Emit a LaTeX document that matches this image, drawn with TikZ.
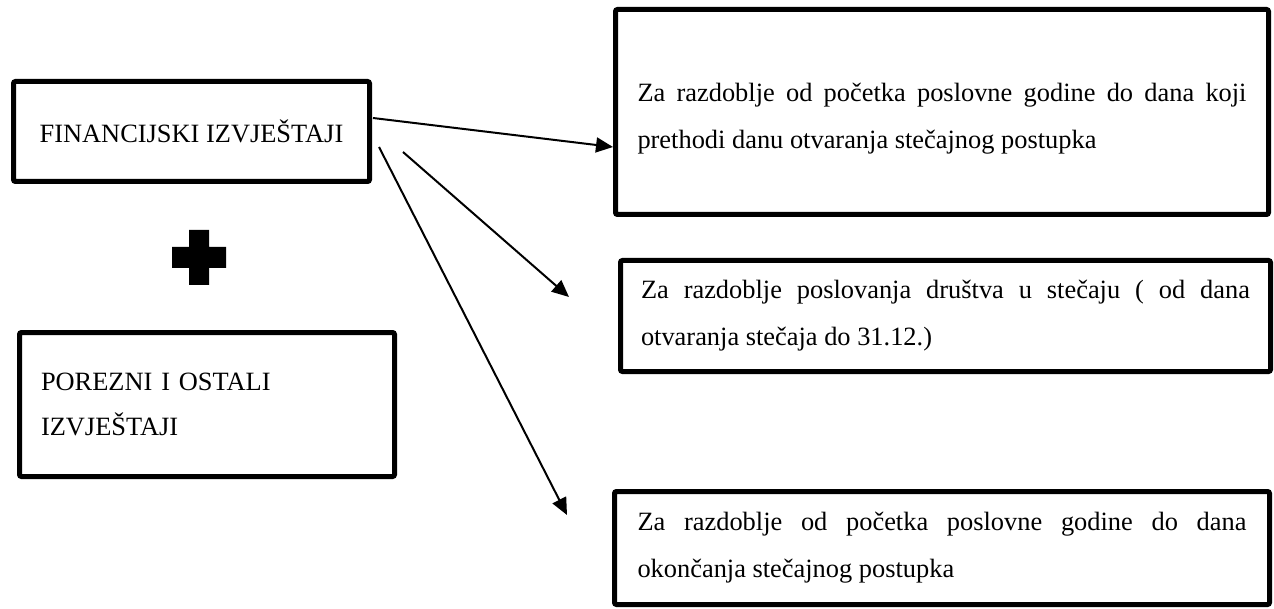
\documentclass[tikz,border=0pt]{standalone}
\usepackage{fontspec}
\setmainfont{Liberation Serif}
\usetikzlibrary{arrows.meta,positioning}
\tikzset{
  repbox/.style={draw=black, line width=2.5pt, rounded corners=1pt, inner sep=0pt,
                 font=\fontsize{13.2}{22.5}\selectfont},
  periodbox/.style={repbox, text width=304.5pt, align=justify,
                    font=\fontsize{13.2}{23.5}\selectfont},
  linkarr/.style={-{Triangle[length=8.5pt,width=7.5pt]}, line width=1pt},
}

\begin{document}
\begin{tikzpicture}[x=0.5pt, y=-0.5pt]
  \useasboundingbox (0,0) rectangle (1274,609);
  % --- left side: the two kinds of reports
  \node[repbox, minimum width=178pt, minimum height=50pt] (fin) at (191.5,131.5)
       {FINANCIJSKI IZVJEŠTAJI};
  \node[repbox, minimum width=187.5pt, minimum height=72pt, text width=166pt, align=left]
       (tax) at (207,404.5) {POREZNI I OSTALI\\IZVJEŠTAJI};
  % --- plus sign
  \fill (189,230) -- (209,230) -- (209,247) -- (226,247) -- (226,268) -- (209,268)
        -- (209,285) -- (189,285) -- (189,268) -- (172,268) -- (172,247) -- (189,247) -- cycle;
  % --- right side: reporting periods
  \node[periodbox, minimum width=326.5pt, minimum height=102.5pt] (per1) at (942,112)
       {\rule{0pt}{16pt}Za razdoblje od početka poslovne godine do dana koji\linebreak
        prethodi danu otvaranja stečajnog postupka};
  \node[periodbox, minimum width=325pt, minimum height=55.5pt] (per2) at (945.5,316)
       {Za razdoblje poslovanja društva u stečaju ( od dana\linebreak
        otvaranja stečaja do 31.12.)};
  \node[periodbox, minimum width=327.5pt, minimum height=56.5pt] (per3) at (942,548)
       {Za razdoblje od početka poslovne godine do dana\linebreak
        okončanja stečajnog postupka};
  % --- arrows
  \coordinate (s1) at (373,118);
  \coordinate (s2) at (403,152);
  \coordinate (s3) at (379,147);
  \coordinate (e1) at (per1.west |- 0,147);
  \coordinate (e2) at (569,297);
  \coordinate (e3) at (567,515);
  \draw[linkarr] (s1) -- (e1);
  \draw[linkarr] (s2) -- (e2);
  \draw[linkarr] (s3) -- (e3);
\end{tikzpicture}
\end{document}
